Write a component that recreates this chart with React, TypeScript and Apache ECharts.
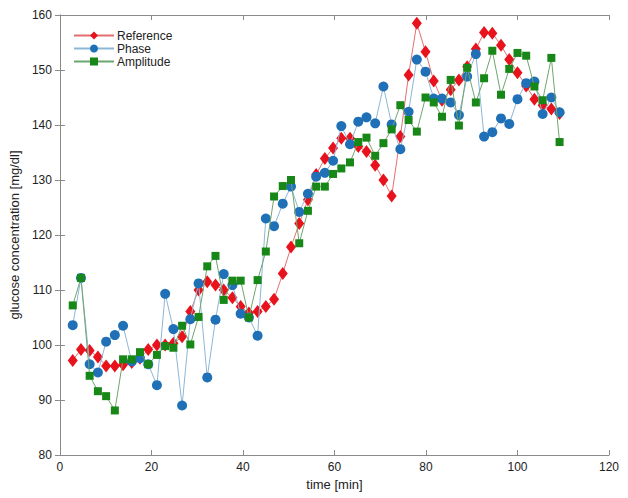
import React, { useEffect, useRef } from "react";
import * as echarts from "echarts";

const timeMin = [
  2.8, 4.6, 6.5, 8.3, 10.1, 12.0, 13.8, 15.7, 17.5, 19.3, 21.2, 23.0, 24.8, 26.7, 28.5,
  30.3, 32.2, 34.0, 35.8, 37.7, 39.5, 41.3, 43.2, 45.0, 46.8, 48.7, 50.5, 52.3, 54.2,
  56.0, 57.9, 59.7, 61.5, 63.4, 65.2, 67.0, 68.9, 70.7, 72.5, 74.4, 76.2, 78.0, 79.9,
  81.7, 83.5, 85.4, 87.2, 89.0, 90.9, 92.7, 94.5, 96.4, 98.2, 100.0, 101.9, 103.7,
  105.5, 107.4, 109.2,
];

const reference = [
  97.2, 99.2, 99.0, 97.8, 96.2, 96.2, 96.4, 96.8, 97.6, 99.2, 100.0, 100.0, 100.3, 101.5,
  106.1, 110.0, 111.5, 110.9, 110.0, 108.6, 107.0, 105.8, 106.1, 107.0, 108.3, 113.0,
  117.8, 122.1, 126.4, 131.0, 133.9, 135.8, 137.6, 137.6, 136.1, 135.2, 132.7, 130.0,
  127.1, 137.9, 149.1, 158.5, 153.3, 148.0, 144.5, 146.4, 148.2, 150.6, 153.8, 156.8,
  156.7, 154.5, 151.9, 149.5, 147.1, 144.7, 143.6, 142.9, 142.1,
];

const phase = [
  103.6, 112.2, 96.5, 95.0, 100.6, 101.8, 103.5, 97.0, 97.6, 96.5, 92.7, 109.3, 102.9,
  89.0, 104.7, 111.2, 94.1, 104.6, 112.9, 110.9, 105.7, 105.0, 101.7, 123.0, 121.6,
  125.7, 128.8, 124.2, 127.5, 130.6, 131.3, 133.5, 139.8, 136.5, 140.6, 141.4, 140.3,
  147.0, 140.1, 135.6, 142.4, 151.9, 149.7, 144.8, 144.8, 144.1, 141.8, 148.8, 152.9,
  137.9, 138.7, 141.2, 140.2, 144.7, 147.6, 147.9, 142.0, 145.0, 142.3,
];

const amplitude = [
  107.2, 112.2, 94.4, 91.6, 90.7, 88.1, 97.4, 97.4, 98.7, 96.5, 98.2, 99.8, 99.5, 103.5,
  100.1, 105.1, 114.3, 116.2, 108.2, 111.7, 111.7, 105.0, 111.8, 117.0, 127.0, 128.9,
  130.0, 118.5, 124.4, 128.8, 128.8, 131.1, 132.1, 133.2, 136.9, 137.7, 134.4, 136.7,
  139.2, 143.6, 140.9, 138.8, 145.0, 144.1, 141.5, 148.2, 139.9, 150.4, 144.1, 148.5,
  153.5, 145.5, 150.2, 153.1, 152.6, 147.0, 144.5, 152.2, 136.9,
];

const seriesNames = ["Reference", "Phase", "Amplitude"];
const xTicks = { min: 0, max: 120, interval: 20 };
const yTicks = { min: 80, max: 160, interval: 10 };

const FONT = "'Liberation Sans', Arial, Helvetica, sans-serif";
const AXIS_COLOR = "#8a8a8a";

export default function App() {
  const ref = useRef<HTMLDivElement>(null);

  useEffect(() => {
    if (!ref.current) return;
    const chart = echarts.init(ref.current, null, { renderer: "svg" });

    const pair = (ys: number[]) => timeMin.map((t, i) => [t, ys[i]]);

    const baseX = {
      type: "value",
      min: xTicks.min,
      max: xTicks.max,
      interval: xTicks.interval,
      splitLine: { show: false },
      axisLine: { show: true, lineStyle: { color: AXIS_COLOR, width: 1 } },
      axisTick: { show: true, inside: true, length: 5, lineStyle: { color: AXIS_COLOR } },
    };
    const baseY = {
      type: "value",
      min: yTicks.min,
      max: yTicks.max,
      interval: yTicks.interval,
      splitLine: { show: false },
      axisLine: { show: true, lineStyle: { color: AXIS_COLOR, width: 1 } },
      axisTick: { show: true, inside: true, length: 5, lineStyle: { color: AXIS_COLOR } },
    };

    chart.setOption({
      animation: false,
      backgroundColor: "#ffffff",
      grid: { left: 52, right: 19, top: 15, bottom: 43, containLabel: false },
      legend: {
        orient: "vertical",
        left: 68,
        top: 24,
        itemWidth: 40,
        itemHeight: 10,
        itemGap: 0,
        data: seriesNames,
        textStyle: {
          fontFamily: FONT,
          fontSize: 12,
          lineHeight: 13,
          color: "#222",
          padding: [0, 0, 0, -2],
        },
      },
      xAxis: [
        {
          ...baseX,
          position: "bottom",
          name: "time [min]",
          nameLocation: "middle",
          nameGap: 20,
          nameTextStyle: { fontFamily: FONT, fontSize: 13, color: "#222" },
          axisLabel: { show: true, fontFamily: FONT, fontSize: 12, color: "#222", margin: 6 },
        },
        { ...baseX, position: "top", axisLabel: { show: false } },
      ],
      yAxis: [
        {
          ...baseY,
          position: "left",
          name: "glucose concentration [mg/dl]",
          nameLocation: "middle",
          nameGap: 34,
          nameTextStyle: { fontFamily: FONT, fontSize: 13, color: "#222" },
          axisLabel: { show: true, fontFamily: FONT, fontSize: 12, color: "#222", margin: 8 },
        },
        { ...baseY, position: "right", axisLabel: { show: false } },
      ],
      series: [
        {
          name: seriesNames[0],
          type: "line",
          data: pair(reference),
          symbol: "diamond",
          symbolSize: [10, 13],
          showAllSymbol: true,
          lineStyle: { color: "#e37070", width: 1 },
          itemStyle: { color: "#e8121c" },
          z: 2,
        },
        {
          name: seriesNames[1],
          type: "line",
          data: pair(phase),
          symbol: "circle",
          symbolSize: 10,
          showAllSymbol: true,
          lineStyle: { color: "#8cb6d6", width: 1 },
          itemStyle: { color: "#1f70b6" },
          z: 3,
        },
        {
          name: seriesNames[2],
          type: "line",
          data: pair(amplitude),
          symbol: "rect",
          symbolSize: 8,
          showAllSymbol: true,
          lineStyle: { color: "#6fa56f", width: 1 },
          itemStyle: { color: "#178717" },
          z: 4,
        },
      ],
    });

    return () => chart.dispose();
  }, []);

  return (
    <div
      ref={ref}
      style={{ position: "fixed", left: 0, top: 0, width: 628, height: 498, background: "#fff" }}
    />
  );
}
